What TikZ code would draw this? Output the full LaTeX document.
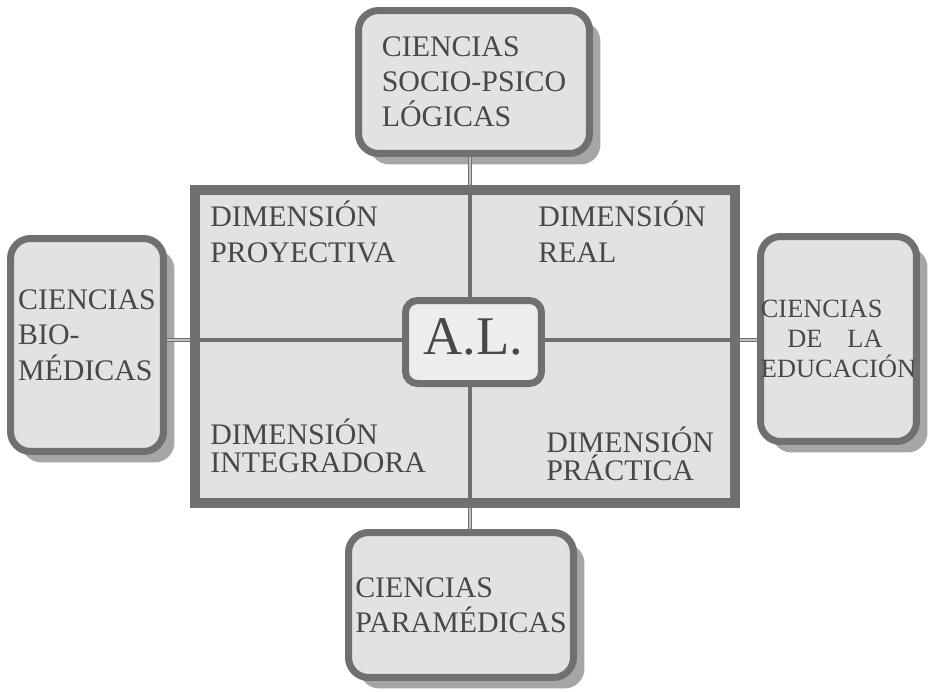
\documentclass[tikz,border=0pt]{standalone}
\usepackage{fontspec}
\setmainfont{Liberation Serif}
\usepackage{tikz}
\usetikzlibrary{shadows}
\definecolor{boxfill}{HTML}{E2E2E2}
\definecolor{corefill}{HTML}{EDEDED}
\definecolor{boxline}{HTML}{707070}
\definecolor{boxshade}{HTML}{A6A6A6}
\definecolor{inkgray}{HTML}{484848}

\begin{document}
\begin{tikzpicture}[x=0.02cm, y=-0.02cm,
  ciencia/.style={draw=boxline, line width=0.14cm, fill=boxfill, rounded corners=0.4cm,
    drop shadow={shadow xshift=0.22cm, shadow yshift=-0.22cm, fill=boxshade, opacity=1},
    align=left, text=inkgray, inner sep=0pt, font=\fontsize{17}{20}\selectfont},
  dimension/.style={anchor=base west, align=left, text=inkgray, inner sep=0pt},
  link/.style={draw=boxline, line width=0.8pt, double=boxfill!70!boxline, double distance=1.2pt},
  divider/.style={draw=boxline, line width=0.07cm}]
\useasboundingbox (0,0) rectangle (931,691);
\node[ciencia, minimum width=4.62cm, minimum height=2.86cm] (socio) at (474,82) {CIENCIAS\\SOCIO-PSICO\\LÓGICAS};
\node[ciencia, minimum width=3.06cm, minimum height=4.26cm, text depth=0.4cm] (bio) at (87,345) {CIENCIAS\\BIO-\\MÉDICAS};
\node[ciencia, minimum width=3.12cm, minimum height=4.1cm, font=\fontsize{15}{17}\selectfont] (edu) at (838.5,339) {CIENCIAS\\\hspace{1em}DE\hspace{0.95em}LA\\EDUCACIÓN};
\node[ciencia, minimum width=4.5cm, minimum height=2.9cm] (para) at (461,605) {CIENCIAS\\PARAMÉDICAS};
\node[draw=boxline, line width=0.2cm, fill=boxfill, minimum width=10.8cm, minimum height=6.26cm, inner sep=0pt] (dims) at (465,346.5) {};
\coordinate (cross) at (470,340);
\draw[divider] (dims.north -| cross) -- (dims.south -| cross);
\draw[divider] (dims.west |- cross) -- (dims.east |- cross);
\draw[link] (socio.south -| cross) -- (dims.north -| cross);
\draw[link] (dims.south -| cross) -- (para.north -| cross);
\draw[link] (bio.east |- cross) -- (dims.west |- cross);
\draw[link] (dims.east |- cross) -- (edu.west |- cross);
\node[dimension, font=\fontsize{17}{20.4}\selectfont] (proy) at (210,262) {DIMENSIÓN\\PROYECTIVA};
\node[dimension, font=\fontsize{17}{20.4}\selectfont] (real) at (538,262) {DIMENSIÓN\\REAL};
\node[dimension, font=\fontsize{17}{15.6}\selectfont] (integ) at (210,472) {DIMENSIÓN\\INTEGRADORA};
\node[dimension, font=\fontsize{17}{15.6}\selectfont] (prac) at (546,480) {DIMENSIÓN\\PRÁCTICA};
\node[draw=boxline, line width=0.14cm, fill=corefill, rounded corners=0.24cm, minimum width=2.72cm, minimum height=1.66cm,
  text=inkgray, text depth=0.2cm, font=\fontsize{31}{31}\selectfont] (al) at (473.5,342) {A.L.};
\end{tikzpicture}
\end{document}
